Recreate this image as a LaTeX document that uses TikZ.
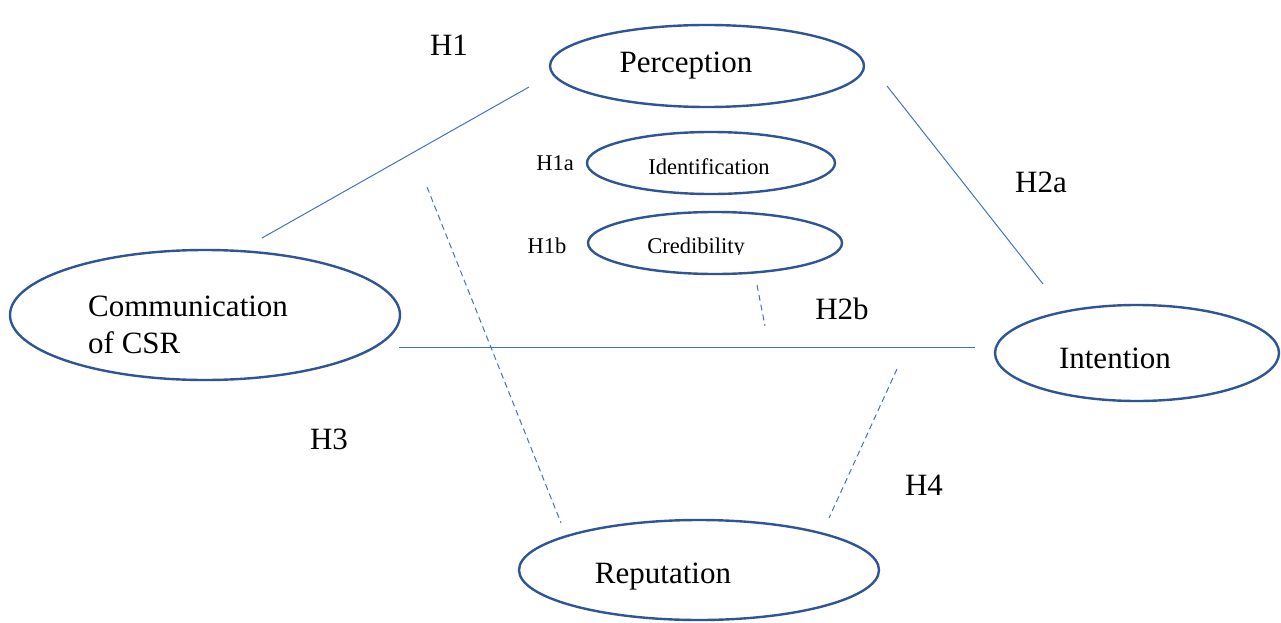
\documentclass[tikz,border=0pt]{standalone}
\usepackage{fontspec}
\setmainfont{Liberation Serif}
\usetikzlibrary{shapes.geometric}
\definecolor{ellcol}{HTML}{2F5597}
\definecolor{lincol}{HTML}{4472C4}
\tikzset{
  oval/.style={ellipse, draw=ellcol, line width=2.4pt, inner sep=0pt},
  bigtxt/.style={font=\fontsize{31}{37}\selectfont, inner sep=0pt},
  smalltxt/.style={font=\fontsize{22.5}{26}\selectfont, inner sep=0pt},
  link/.style={draw=lincol, line width=1pt},
  dlink/.style={draw=lincol, line width=1pt, dash pattern=on 6pt off 4pt}
}
\begin{document}
\begin{tikzpicture}[x=1pt,y=-1pt]
\useasboundingbox (0,0) rectangle (1281,623);
% ellipses
\node[oval, minimum width=314pt, minimum height=82pt] (perc) at (707,66) {};
\node[oval, minimum width=248pt, minimum height=62pt] (iden) at (711,163) {};
\node[oval, minimum width=254pt, minimum height=62pt] (cred) at (715,243) {};
\node[oval, minimum width=390pt, minimum height=130pt] (comm) at (205,315) {};
\node[oval, minimum width=284pt, minimum height=96pt] (inte) at (1137,353) {};
\node[oval, minimum width=360pt, minimum height=100pt] (repu) at (699,570) {};
% texts
\node[bigtxt] (tperc) at (686,66) {Perception};
\node[smalltxt] (tiden) at (709,167) {Identification};
\begin{scope}
\clip (600,225) rectangle (800,254);
\node[smalltxt] (tcred) at (696,248) {Credibility};
\end{scope}
\node[bigtxt, align=left, anchor=west] (tcomm) at (88,325) {Communication\\of CSR};
\node[bigtxt] (tinte) at (1115,358) {Intention};
\node[bigtxt] (trepu) at (663,577) {Reputation};
% labels
\node[bigtxt] (h1) at (449,45) {H1};
\node[smalltxt] (h1a) at (555,163) {H1a};
\node[smalltxt] (h1b) at (547,246) {H1b};
\node[bigtxt] (h2a) at (1041,182) {H2a};
\node[bigtxt] (h2b) at (842,309) {H2b};
\node[bigtxt] (h3) at (329,439) {H3};
\node[bigtxt] (h4) at (924,485) {H4};
% connector end points
\coordinate (a1) at (262,238); \coordinate (a2) at (529,87);
\coordinate (b1) at (887,86); \coordinate (b2) at (1043,284);
\coordinate (c1) at (399,347); \coordinate (c2) at (975,347);
\coordinate (d1) at (427,187); \coordinate (d2) at (561,523);
\coordinate (e1) at (757,285); \coordinate (e2) at (765,326);
\coordinate (f1) at (897,369); \coordinate (f2) at (829,518);
\draw[link] (a1) -- (a2);
\draw[link] (b1) -- (b2);
\draw[link] (c1) -- (c2);
\draw[dlink] (d1) -- (d2);
\draw[dlink] (e1) -- (e2);
\draw[dlink] (f1) -- (f2);
\end{tikzpicture}
\end{document}
